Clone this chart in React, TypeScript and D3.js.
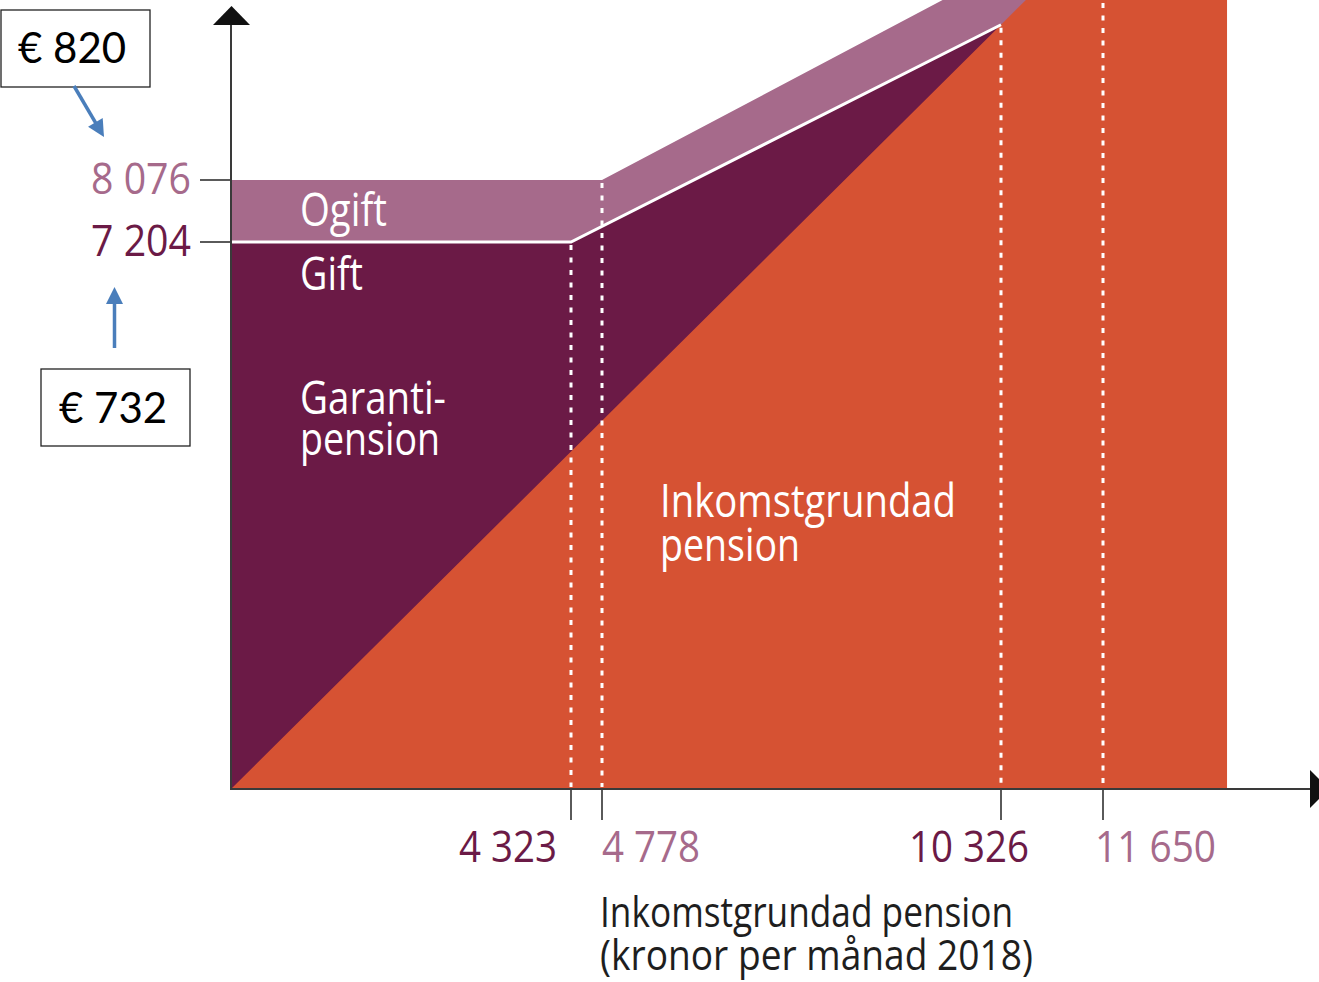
import React from 'react';
import * as d3 from 'd3';

// ---- data ----
const xTickValues = [4323, 4778, 10326, 11650];
const xTickLabels = ['4 323', '4 778', '10 326', '11 650'];
const yTickValues = [8076, 7204];
const yTickLabels = ['8 076', '7 204'];
const xMaxValue = 13260;

// Garantipension, gift (married): flat, then tapering line
const giftX = [0, 4323, 10326];
const giftY = [7204, 7204, 10260];
// Garantipension, ogift (unmarried)
const ogiftX = [0, 4778, 11650];
const ogiftY = [8076, 8076, 11800];
// Inkomstgrundad pension (diagonal)
const incomeX = [0, 10326];
const incomeY = [0, 10260];

// dotted guide lines: x value and the y value they start from
const guideX = [4323, 4778, 10326, 11650];
const guideTopY = [7204, 8076, 10260, 11800];

const annotationLabels = ['€ 820', '€ 732'];

// ---- style ----
const W = 1319;
const H = 982;
const C_ORANGE = '#D65233';
const C_DARK = '#6B1A46';
const C_LIGHT = '#A66A8B';
const C_AXIS = '#3a3a3a';
const C_TICK = '#5a5a5a';
const C_BLUE = '#4A7EBB';
const FONT = "'Open Sans', 'Noto Sans', sans-serif";

const xTickColors = [C_DARK, C_LIGHT, C_DARK, C_LIGHT];
const xTickDx = [-112, 0, -92, -8];
const xTickWidths = [98, 98, 120, 121];
const yTickColors = [C_LIGHT, C_DARK];

export default function App() {
  const x = d3.scaleLinear().domain([0, 4323, 4778, 10326, 11650]).range([231, 571, 602, 1001, 1103]);
  const y = d3.scaleLinear().domain([0, 7204, 8076]).range([789, 242, 180]);

  const line = d3
    .line<[number, number]>()
    .x((d) => x(d[0]))
    .y((d) => y(d[1]));

  const zip = (xs: number[], ys: number[]) => xs.map((v, i) => [v, ys[i]] as [number, number]);

  const ogiftPts = zip(ogiftX, ogiftY);
  const giftPts = zip(giftX, giftY);
  const incomePts = zip(incomeX, incomeY);

  const ogiftPoly: [number, number][] = [[0, 0], ...ogiftPts, [ogiftX[ogiftX.length - 1], 0]];
  const giftPoly: [number, number][] = [[0, 0], ...giftPts, [giftX[giftX.length - 1], 0]];

  // extend the income diagonal straight (in pixel space) above the top of the picture
  const p0 = incomePts[0];
  const p1 = incomePts[incomePts.length - 1];
  const px0 = x(p0[0]), py0 = y(p0[1]);
  const px1 = x(p1[0]), py1 = y(p1[1]);
  const topPx = -20;
  const extPx = px1 + ((topPx - py1) * (px1 - px0)) / (py1 - py0);
  const extPt: [number, number] = [x.invert(extPx), y.invert(topPx)];
  const incomePoly: [number, number][] = [
    ...incomePts,
    extPt,
    [xMaxValue, y.invert(topPx)],
    [xMaxValue, 0],
  ];

  const x0 = x(0);
  const y0 = y(0);

  // annotation placement relative to the y ticks
  const yA = y(8076);
  const yB = y(7204);

  const arrow = (x1: number, y1: number, x2: number, y2: number, key: string) => {
    const dx = x2 - x1, dy = y2 - y1;
    const len = Math.hypot(dx, dy);
    const ux = dx / len, uy = dy / len;
    const hl = 17, hw = 8.5;
    const bx = x2 - ux * hl, by = y2 - uy * hl;
    const pts = [
      [x2, y2],
      [bx - uy * hw, by + ux * hw],
      [bx + uy * hw, by - ux * hw],
    ];
    return (
      <g key={key}>
        <line x1={x1} y1={y1} x2={bx + ux * 2} y2={by + uy * 2} stroke={C_BLUE} strokeWidth={3.5} />
        <polygon points={pts.map((p) => p.join(',')).join(' ')} fill={C_BLUE} />
      </g>
    );
  };

  return (
    <svg
      width={W}
      height={H}
      viewBox={`0 0 ${W} ${H}`}
      style={{ position: 'absolute', left: 0, top: 0, background: '#fff' }}
    >
      {/* areas */}
      <path d={line(ogiftPoly)! + 'Z'} fill={C_LIGHT} />
      <path d={line(giftPoly)! + 'Z'} fill={C_DARK} />
      <path d={line(incomePoly)! + 'Z'} fill={C_ORANGE} />

      {/* white boundary line between gift and ogift */}
      <path d={line(giftPts)!} fill="none" stroke="#fff" strokeWidth={3} />

      {/* dotted guides */}
      {guideX.map((v, i) => (
        <line
          key={'g' + i}
          x1={x(v)}
          x2={x(v)}
          y1={Math.max(0, y(guideTopY[i])) + 3}
          y2={y0 - 2}
          stroke="#fff"
          strokeWidth={3}
          strokeDasharray="5 7.5"
        />
      ))}

      {/* x ticks */}
      {xTickValues.map((v, i) => (
        <g key={'xt' + i}>
          <line x1={x(v)} x2={x(v)} y1={y0} y2={y0 + 31} stroke={C_TICK} strokeWidth={2} />
          <text
            x={x(v) + xTickDx[i]}
            y={y0 + 73}
            fill={xTickColors[i]}
            fontFamily={FONT}
            fontSize={43}
            textLength={xTickWidths[i]}
            lengthAdjust="spacingAndGlyphs"
          >
            {xTickLabels[i]}
          </text>
        </g>
      ))}

      {/* y ticks */}
      {yTickValues.map((v, i) => (
        <g key={'yt' + i}>
          <line x1={x0 - 31} x2={x0} y1={y(v)} y2={y(v)} stroke={C_TICK} strokeWidth={2} />
          <text
            x={x0 - 140}
            y={y(v) + 14}
            fill={yTickColors[i]}
            fontFamily={FONT}
            fontSize={43}
            textLength={100}
            lengthAdjust="spacingAndGlyphs"
          >
            {yTickLabels[i]}
          </text>
        </g>
      ))}

      {/* axes */}
      <line x1={x0} x2={x0} y1={y0 + 1} y2={24} stroke={C_AXIS} strokeWidth={2} />
      <polygon points={`${x0 - 18},25 ${x0 + 19},25 ${x0 + 0.5},6`} fill="#111" />
      <line x1={x0 - 1} x2={1312} y1={y0} y2={y0} stroke={C_AXIS} strokeWidth={2} />
      <polygon points={`1310,${y0 - 19} 1310,${y0 + 19} 1329,${y0}`} fill="#111" />

      {/* area labels */}
      <g fill="#fff" fontFamily={FONT} fontSize={45} fontWeight={500}>
        <text x={300} y={226} textLength={87} lengthAdjust="spacingAndGlyphs">Ogift</text>
        <text x={300} y={290} textLength={63} lengthAdjust="spacingAndGlyphs">Gift</text>
        <text x={300} y={414} textLength={146} lengthAdjust="spacingAndGlyphs">Garanti-</text>
        <text x={300} y={455} textLength={140} lengthAdjust="spacingAndGlyphs">pension</text>
        <text x={660} y={517} textLength={296} lengthAdjust="spacingAndGlyphs">Inkomstgrundad</text>
        <text x={660} y={561} textLength={140} lengthAdjust="spacingAndGlyphs">pension</text>
      </g>

      {/* axis title */}
      <g fill="#1e1e1e" fontFamily={FONT} fontSize={42}>
        <text x={600} y={927} textLength={413} lengthAdjust="spacingAndGlyphs">Inkomstgrundad pension</text>
        <text x={600} y={970} textLength={433} lengthAdjust="spacingAndGlyphs">(kronor per månad 2018)</text>
      </g>

      {/* annotations */}
      <rect x={1} y={yA - 170} width={149} height={77} fill="#fff" stroke="#222" strokeWidth={1.3} />
      <text x={18} y={yA - 117} fontFamily="Lato, 'Liberation Sans', sans-serif" fontSize={42} fill="#000">
        {annotationLabels[0]}
      </text>
      {arrow(74, yA - 94, 104, yA - 43, 'a1')}

      <rect x={41} y={yB + 127} width={149} height={77} fill="#fff" stroke="#222" strokeWidth={1.3} />
      <text x={59} y={yB + 181} fontFamily="Lato, 'Liberation Sans', sans-serif" fontSize={42} fill="#000">
        {annotationLabels[1]}
      </text>
      {arrow(114.5, yB + 106, 114.5, yB + 45, 'a2')}
    </svg>
  );
}
